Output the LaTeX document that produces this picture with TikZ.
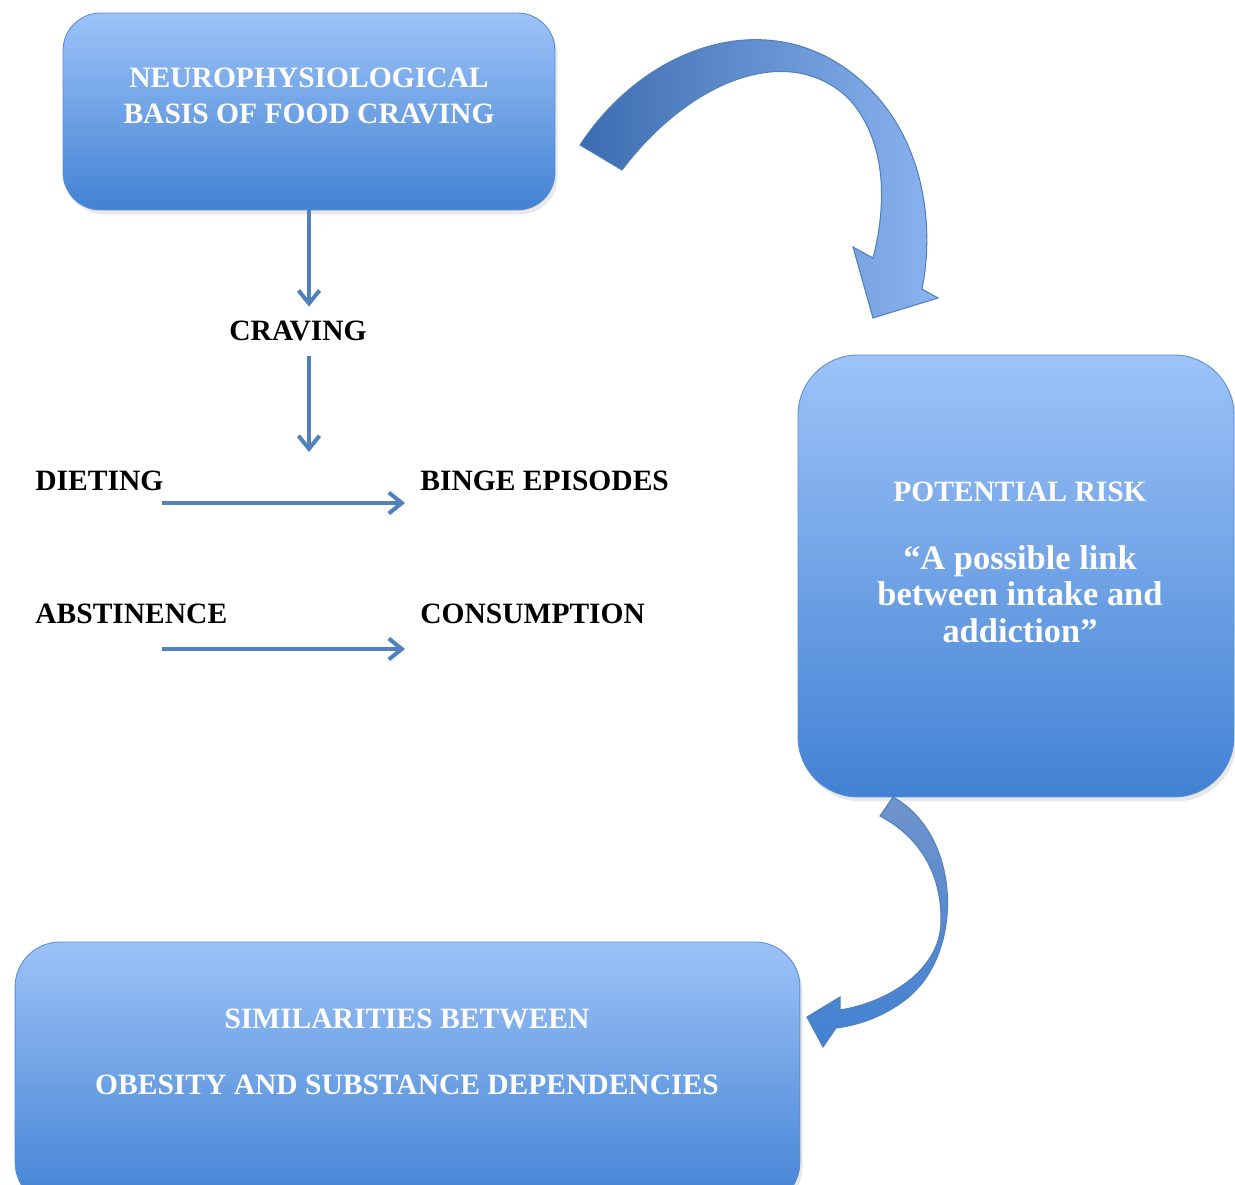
\documentclass[tikz,border=0pt]{standalone}
\usepackage{fontspec}
\setmainfont{Liberation Serif}
\usepackage{xcolor}
\usetikzlibrary{arrows.meta,calc,shadows}

\definecolor{boxtop}{HTML}{9DC3F8}
\definecolor{boxbot}{HTML}{4282D3}
\definecolor{boxline}{HTML}{5A8ED5}
\definecolor{arrcol}{HTML}{4F81BD}
\definecolor{arrdark}{HTML}{3C6CB0}
\definecolor{arrmid}{HTML}{7093CC}
\definecolor{arrlight}{HTML}{8BB4F0}

\tikzset{
  box/.style={draw=boxline,line width=0.5pt,top color=boxtop,bottom color=boxbot,
    drop shadow={opacity=0.18,shadow xshift=1.5pt,shadow yshift=-2.5pt}},
  boxtxt/.style={text=white,font=\bfseries\fontsize{16.8}{20.5}\selectfont,align=center,inner sep=0pt},
  lbl/.style={text=black,font=\bfseries\fontsize{16.8}{20}\selectfont,inner sep=0pt},
  arr/.style={draw=arrcol,line width=2.3pt,-{Straight Barb[length=0.26cm,width=0.42cm,line width=2.3pt]}},
  bendarrow/.style={draw=arrcol,line width=0.6pt}
}

\begin{document}
\begin{tikzpicture}[x=0.02cm,y=-0.02cm]
\useasboundingbox (0,0) rectangle (1235,1185);

% boxes
\node[box,rounded corners=0.75cm,minimum width=9.84cm,minimum height=3.94cm] (neuro) at (309,111.5) {};
\node[box,rounded corners=1.2cm,minimum width=8.72cm,minimum height=8.84cm] (risk) at (1016,576) {};
\node[box,rounded corners=0.9cm,minimum width=15.7cm,minimum height=5.3cm] (simil) at (407.5,1074.5) {};

\node[boxtxt] (neurotxt) at (309,96) {NEUROPHYSIOLOGICAL\\BASIS OF FOOD CRAVING};
\node[boxtxt] (riskhead) at (1020,492) {POTENTIAL RISK};
\node[boxtxt,font=\bfseries\fontsize{19.6}{20.8}\selectfont] (riskquote) at (1020,594) {“A possible link\\between intake and\\addiction”};
\node[boxtxt] (similtxt) at (407,1052) {SIMILARITIES BETWEEN\\[0.6cm]OBESITY AND SUBSTANCE DEPENDENCIES};

% middle column
\node[lbl] (craving) at (298,331) {CRAVING};
\coordinate (down) at (309,452);
\draw[arr,shorten >=0.28cm] (neuro.south) -- (neuro.south |- craving.north);
\draw[arr,shorten <=0.3cm] (neuro.south |- craving.south) -- (down);

\foreach \y/\ay/\a/\b [count=\i] in {481/503/DIETING/BINGE EPISODES,614/649/ABSTINENCE/CONSUMPTION}{
  \node[lbl,anchor=west] (left\i) at (35,\y) {\a};
  \node[lbl,anchor=west] (right\i) at (420,\y) {\b};
  \coordinate (from\i) at (162,\ay);
  \coordinate (to\i) at (405,\ay);
  \draw[arr] (from\i) -- (to\i);
}

% curved arrows
\shade[bendarrow,left color=arrdark,right color=arrlight]
  (580,145) .. controls (650,38) and (790,-5) .. (880,100)
  .. controls (930,160) and (932,240) .. (922,289) -- (938,298) -- (873,318) -- (853,247) -- (873,258)
  .. controls (888,200) and (885,140) .. (850,100)
  .. controls (790,40) and (690,80) .. (622,170) -- cycle;
\shade[bendarrow,top color=arrmid,bottom color=boxbot]
  (893,797) .. controls (962,835) and (965,955) .. (905,1000)
  .. controls (884,1016) and (860,1025) .. (836,1028) -- (823,1047) -- (807,1017) -- (840,997) -- (840,1010)
  .. controls (885,1003) and (940,972) .. (941,922)
  .. controls (942,872) and (918,836) .. (880,816) -- cycle;
\end{tikzpicture}
\end{document}
